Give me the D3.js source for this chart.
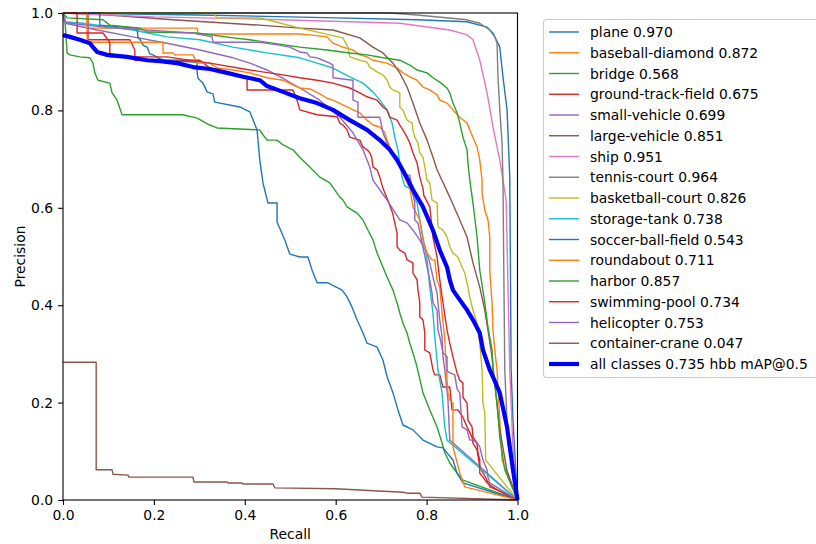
<!DOCTYPE html>
<html>
<head>
<meta charset="utf-8">
<script src="https://cdn.jsdelivr.net/npm/d3@7"></script>
<style>
  body { margin: 0; background: #fff; }
  svg { display: block; }
  text { font-family: "DejaVu Sans", sans-serif; fill: #000; }
</style>
</head>
<body>
<svg id="chart" width="816" height="544"></svg>
<script>
// Class names, per-class AP at IoU 0.5, and line colours
const classNames = ["plane", "baseball-diamond", "bridge", "ground-track-field", "small-vehicle",
  "large-vehicle", "ship", "tennis-court", "basketball-court", "storage-tank", "soccer-ball-field",
  "roundabout", "harbor", "swimming-pool", "helicopter", "container-crane"];
const apValues = [0.970, 0.872, 0.568, 0.675, 0.699, 0.851, 0.951, 0.964, 0.826, 0.738, 0.543,
  0.711, 0.857, 0.734, 0.753, 0.047];
const colors = ["#1f77b4", "#ff7f0e", "#2ca02c", "#d62728", "#9467bd", "#8c564b", "#e377c2",
  "#7f7f7f", "#bcbd22", "#17becf", "#1f77b4", "#ff7f0e", "#2ca02c", "#d62728", "#9467bd", "#8c564b"];

// Precision-recall points, [recall, precision]
const plane = [[0,1],[0.3,0.996],[0.6,0.99],[0.779,0.986],[0.889,0.982],[0.933,0.971],[0.946,0.959],
  [0.961,0.930],[0.968,0.869],[0.977,0.801],[0.983,0.663],[0.986,0.267],[0.990,0.164],[1,0]];
const baseballDiamond = [[0,1],[0.053,1],[0.053,0.969],[0.295,0.969],[0.297,0.957],[0.521,0.957],
  [0.543,0.955],[0.581,0.951],[0.594,0.938],[0.616,0.930],[0.638,0.924],[0.653,0.914],[0.669,0.910],
  [0.682,0.903],[0.713,0.897],[0.735,0.887],[0.748,0.877],[0.763,0.869],[0.779,0.862],[0.792,0.848],
  [0.807,0.842],[0.823,0.832],[0.829,0.821],[0.845,0.815],[0.858,0.801],[0.873,0.786],[0.889,0.774],
  [0.895,0.760],[0.902,0.745],[0.911,0.725],[0.917,0.698],[0.922,0.657],[0.922,0.630],[0.928,0.595],
  [0.935,0.575],[0.939,0.540],[0.939,0.472],[0.944,0.405],[0.946,0.349],[0.950,0.308],[0.955,0.267],
  [0.966,0.082],[1,0]];
const bridge = [[0,1],[0.004,0.99],[0.009,0.918],[0.015,0.914],[0.037,0.910],[0.059,0.908],[0.066,0.897],
  [0.070,0.877],[0.077,0.862],[0.103,0.856],[0.108,0.836],[0.119,0.821],[0.130,0.791],[0.264,0.791],
  [0.295,0.784],[0.323,0.770],[0.339,0.764],[0.433,0.760],[0.440,0.750],[0.449,0.739],[0.471,0.739],
  [0.484,0.729],[0.506,0.719],[0.521,0.704],[0.543,0.684],[0.565,0.663],[0.587,0.651],[0.609,0.622],
  [0.616,0.616],[0.625,0.602],[0.647,0.589],[0.660,0.575],[0.671,0.554],[0.682,0.534],[0.691,0.507],
  [0.704,0.478],[0.713,0.458],[0.726,0.431],[0.735,0.405],[0.741,0.384],[0.748,0.363],[0.757,0.343],
  [0.763,0.322],[0.770,0.302],[0.779,0.273],[0.792,0.220],[0.807,0.185],[0.823,0.150],[0.834,0.117],
  [0.840,0.097],[0.851,0.076],[0.867,0.055],[0.880,0.041],[1,0]];
const groundTrackField = [[0,1],[0.055,1],[0.055,0.945],[0.147,0.945],[0.158,0.924],[0.158,0.903],
  [0.301,0.903],[0.323,0.887],[0.405,0.869],[0.405,0.842],[0.506,0.842],[0.515,0.821],[0.521,0.801],
  [0.559,0.791],[0.603,0.787],[0.609,0.774],[0.616,0.770],[0.625,0.760],[0.631,0.745],[0.653,0.739],
  [0.660,0.725],[0.669,0.719],[0.675,0.713],[0.679,0.704],[0.682,0.684],[0.691,0.678],[0.697,0.663],
  [0.704,0.640],[0.715,0.615],[0.725,0.590],[0.735,0.548],[0.735,0.520],[0.741,0.513],[0.752,0.507],
  [0.757,0.493],[0.770,0.487],[0.770,0.466],[0.779,0.452],[0.781,0.431],[0.785,0.405],[0.785,0.376],
  [0.792,0.370],[0.796,0.343],[0.796,0.308],[0.807,0.302],[0.814,0.267],[0.818,0.257],[0.829,0.257],
  [0.836,0.232],[0.851,0.232],[0.856,0.185],[0.869,0.185],[0.880,0.170],[0.889,0.150],[0.900,0.129],
  [0.902,0.117],[0.911,0.103],[0.917,0.068],[0.933,0.041],[0.939,0.027],[0.955,0.021],[1,0]];
const smallVehicle = [[0,1],[0.005,0.979],[0.075,0.965],[0.154,0.951],[0.229,0.938],[0.301,0.924],
  [0.374,0.908],[0.411,0.897],[0.449,0.883],[0.484,0.866],[0.521,0.846],[0.565,0.821],[0.609,0.786],
  [0.638,0.754],[0.660,0.719],[0.675,0.684],[0.682,0.657],[0.713,0.616],[0.741,0.575],[0.757,0.569],
  [0.770,0.554],[0.785,0.534],[0.801,0.507],[0.807,0.487],[0.814,0.458],[0.823,0.425],[0.825,0.405],
  [0.829,0.370],[0.834,0.335],[0.836,0.294],[0.840,0.267],[0.847,0.205],[0.851,0.123],[1,0]];
const largeVehicle = [[0,1],[0.1,0.996],[0.242,0.986],[0.433,0.975],[0.521,0.969],[0.594,0.965],
  [0.653,0.949],[0.682,0.930],[0.704,0.918],[0.726,0.897],[0.741,0.877],[0.757,0.848],[0.770,0.815],
  [0.785,0.774],[0.801,0.739],[0.814,0.704],[0.823,0.678],[0.851,0.622],[0.873,0.575],[0.889,0.540],
  [0.902,0.487],[0.917,0.437],[0.928,0.390],[0.935,0.349],[0.944,0.294],[0.960,0.15],[0.977,0.06],[1,0]];
const ship = [[0,1],[0.2,0.992],[0.411,0.988],[0.631,0.982],[0.741,0.979],[0.851,0.965],[0.889,0.955],
  [0.902,0.945],[0.917,0.903],[0.933,0.836],[0.946,0.766],[0.961,0.698],[0.968,0.657],[0.975,0.616],
  [0.983,0.267],[0.990,0.103],[1,0]];
const tennisCourt = [[0,1],[0.72,1],[0.779,0.996],[0.889,0.986],[0.917,0.979],[0.939,0.965],[0.950,0.951],
  [0.955,0.938],[0.957,0.869],[0.961,0.801],[0.966,0.733],[0.968,0.657],[0.972,0.267],[0.975,0.205],
  [0.979,0.117],[1,0]];
const basketballCourt = [[0,1],[0.330,1],[0.339,0.99],[0.433,0.99],[0.466,0.982],[0.521,0.969],
  [0.616,0.949],[0.627,0.930],[0.631,0.910],[0.653,0.903],[0.669,0.899],[0.675,0.889],[0.691,0.879],
  [0.704,0.873],[0.713,0.862],[0.719,0.848],[0.726,0.842],[0.741,0.836],[0.741,0.807],[0.748,0.801],
  [0.757,0.780],[0.768,0.774],[0.770,0.760],[0.774,0.745],[0.781,0.733],[0.785,0.713],[0.792,0.704],
  [0.796,0.684],[0.801,0.657],[0.807,0.651],[0.812,0.616],[0.823,0.610],[0.825,0.561],[0.836,0.554],
  [0.845,0.540],[0.851,0.520],[0.858,0.507],[0.869,0.499],[0.878,0.478],[0.884,0.466],[0.891,0.437],
  [0.895,0.417],[0.902,0.390],[0.911,0.363],[0.913,0.349],[0.917,0.322],[0.922,0.267],[0.924,0.199],
  [0.928,0.179],[0.930,0.082],[1,0]];
const storageTank = [[0,1],[0.003,0.982],[0.044,0.979],[0.154,0.965],[0.229,0.951],[0.301,0.945],
  [0.374,0.930],[0.449,0.918],[0.521,0.908],[0.559,0.897],[0.594,0.887],[0.631,0.869],[0.660,0.856],
  [0.682,0.838],[0.697,0.821],[0.713,0.801],[0.724,0.774],[0.730,0.745],[0.737,0.719],[0.741,0.692],
  [0.746,0.663],[0.752,0.645],[0.763,0.640],[0.779,0.610],[0.785,0.575],[0.792,0.540],[0.801,0.493],
  [0.807,0.437],[0.814,0.384],[0.818,0.335],[0.825,0.267],[0.834,0.220],[0.840,0.150],[0.845,0.123],[1,0]];
const soccerBallField = [[0,1],[0.081,1],[0.081,0.975],[0.163,0.969],[0.165,0.949],[0.170,0.945],
  [0.176,0.934],[0.185,0.930],[0.191,0.916],[0.198,0.914],[0.213,0.906],[0.224,0.903],[0.295,0.899],
  [0.295,0.879],[0.297,0.866],[0.308,0.856],[0.317,0.838],[0.330,0.834],[0.334,0.817],[0.389,0.807],
  [0.411,0.797],[0.427,0.760],[0.433,0.698],[0.440,0.651],[0.451,0.610],[0.471,0.610],[0.471,0.571],
  [0.488,0.534],[0.499,0.505],[0.521,0.499],[0.539,0.499],[0.548,0.472],[0.559,0.446],[0.583,0.446],
  [0.614,0.431],[0.625,0.417],[0.636,0.396],[0.647,0.370],[0.660,0.343],[0.669,0.322],[0.691,0.314],
  [0.704,0.287],[0.713,0.253],[0.726,0.220],[0.737,0.185],[0.748,0.154],[0.770,0.144],[0.792,0.123],
  [0.823,0.109],[0.836,0.107],[0.858,0.082],[0.867,0.055],[0.880,0.035],[1,0]];
const roundabout = [[0,1],[0.053,1],[0.053,0.940],[0.220,0.940],[0.220,0.918],[0.242,0.918],[0.246,0.914],
  [0.286,0.914],[0.295,0.897],[0.323,0.897],[0.339,0.887],[0.374,0.883],[0.411,0.877],[0.449,0.867],
  [0.484,0.862],[0.521,0.846],[0.543,0.844],[0.565,0.834],[0.581,0.825],[0.594,0.821],[0.625,0.807],
  [0.653,0.795],[0.669,0.780],[0.682,0.770],[0.697,0.766],[0.708,0.754],[0.713,0.739],[0.719,0.725],
  [0.726,0.713],[0.735,0.698],[0.752,0.661],[0.763,0.640],[0.770,0.602],[0.785,0.575],[0.792,0.534],
  [0.801,0.507],[0.812,0.493],[0.818,0.493],[0.823,0.452],[0.829,0.437],[0.834,0.384],[0.840,0.329],
  [0.845,0.246],[0.847,0.220],[0.851,0.205],[0.858,0.199],[0.858,0.109],[0.869,0.070],[0.873,0.055],
  [0.884,0.027],[1,0]];
const harbor = [[0,1],[0.009,0.99],[0.088,0.986],[0.103,0.975],[0.169,0.969],[0.185,0.961],[0.295,0.959],
  [0.374,0.949],[0.411,0.945],[0.521,0.930],[0.581,0.924],[0.631,0.918],[0.669,0.914],[0.704,0.908],
  [0.741,0.903],[0.763,0.893],[0.779,0.883],[0.801,0.877],[0.814,0.867],[0.829,0.858],[0.845,0.846],
  [0.851,0.836],[0.858,0.815],[0.867,0.795],[0.873,0.774],[0.880,0.745],[0.889,0.719],[0.891,0.692],
  [0.895,0.657],[0.902,0.610],[0.911,0.540],[0.917,0.472],[0.928,0.405],[0.935,0.355],[0.944,0.308],
  [0.946,0.267],[0.955,0.2],[0.961,0.129],[0.972,0.062],[1,0]];
const swimmingPool = [[0,1],[0.031,1],[0.031,0.959],[0.088,0.959],[0.103,0.940],[0.103,0.910],
  [0.229,0.910],[0.323,0.897],[0.411,0.883],[0.484,0.873],[0.521,0.867],[0.559,0.862],[0.594,0.856],
  [0.631,0.846],[0.653,0.836],[0.669,0.828],[0.691,0.821],[0.704,0.807],[0.713,0.801],[0.719,0.786],
  [0.735,0.780],[0.741,0.770],[0.748,0.760],[0.757,0.745],[0.763,0.733],[0.770,0.713],[0.779,0.692],
  [0.785,0.663],[0.792,0.640],[0.794,0.625],[0.807,0.602],[0.814,0.540],[0.823,0.499],[0.829,0.452],
  [0.836,0.405],[0.845,0.349],[0.851,0.322],[0.858,0.294],[0.867,0.261],[0.873,0.246],[0.880,0.240],
  [0.880,0.211],[0.889,0.199],[0.891,0.164],[0.900,0.150],[0.902,0.129],[0.911,0.117],[0.913,0.097],
  [0.917,0.082],[0.917,0.055],[0.924,0.047],[0.933,0.035],[0.955,0.021],[1,0]];
const helicopter = [[0,1],[0.005,0.98],[0.1,0.97],[0.286,0.959],[0.328,0.951],[0.330,0.940],
  [0.433,0.940],[0.475,0.934],[0.499,0.930],[0.521,0.920],[0.537,0.918],[0.543,0.910],[0.559,0.908],
  [0.572,0.903],[0.587,0.897],[0.594,0.893],[0.594,0.867],[0.638,0.862],[0.638,0.821],[0.649,0.817],
  [0.649,0.786],[0.697,0.786],[0.702,0.764],[0.704,0.754],[0.713,0.733],[0.719,0.719],[0.726,0.713],
  [0.735,0.704],[0.737,0.698],[0.741,0.684],[0.752,0.667],[0.763,0.667],[0.768,0.637],[0.774,0.610],
  [0.774,0.575],[0.781,0.569],[0.794,0.510],[0.807,0.452],[0.812,0.425],[0.814,0.405],[0.823,0.390],
  [0.825,0.349],[0.829,0.335],[0.836,0.302],[0.845,0.294],[0.845,0.267],[0.847,0.263],[0.862,0.257],
  [0.867,0.228],[0.873,0.220],[0.878,0.150],[0.889,0.144],[0.895,0.123],[0.902,0.123],[0.911,0.117],
  [0.917,0.109],[0.924,0.082],[0.933,0.062],[0.935,0.047],[0.939,0.035],[1,0]];
const containerCrane = [[0,0.283],[0.073,0.283],[0.073,0.062],[0.108,0.062],[0.110,0.053],[0.143,0.051],
  [0.145,0.047],[0.286,0.047],[0.288,0.037],[0.361,0.037],[0.363,0.035],[0.394,0.035],[0.396,0.033],
  [0.462,0.033],[0.466,0.025],[0.600,0.023],[0.748,0.016],[0.757,0.014],[0.785,0.014],[0.790,0.006],[1,0]];

const allClasses = [[0,0.955],[0.015,0.951],[0.037,0.945],[0.059,0.938],[0.066,0.930],[0.075,0.920],
  [0.097,0.914],[0.141,0.910],[0.185,0.903],[0.214,0.901],[0.251,0.897],[0.286,0.889],[0.323,0.885],
  [0.361,0.877],[0.396,0.869],[0.433,0.862],[0.449,0.850],[0.484,0.838],[0.521,0.825],[0.559,0.815],
  [0.594,0.801],[0.631,0.780],[0.669,0.760],[0.697,0.739],[0.719,0.719],[0.735,0.698],[0.757,0.661],
  [0.770,0.637],[0.792,0.602],[0.814,0.554],[0.829,0.513],[0.845,0.478],[0.851,0.452],[0.858,0.431],
  [0.873,0.411],[0.889,0.390],[0.902,0.370],[0.917,0.343],[0.924,0.308],[0.939,0.267],[0.946,0.253],
  [0.961,0.220],[0.977,0.150],[0.990,0.062],[1,0]];
const allClassesMAP = 0.735;

const classCurves = [plane, baseballDiamond, bridge, groundTrackField, smallVehicle, largeVehicle, ship,
  tennisCourt, basketballCourt, storageTank, soccerBallField, roundabout, harbor, swimmingPool,
  helicopter, containerCrane];

const xTicks = [0, 0.2, 0.4, 0.6, 0.8, 1.0];
const yTicks = [0, 0.2, 0.4, 0.6, 0.8, 1.0];

// Layout
const plot = { left: 63, right: 517.5, top: 13, bottom: 500 };
const fontSize = 13.9;
const svg = d3.select("#chart");

const x = d3.scaleLinear().domain([0, 1]).range([plot.left, plot.right]);
const y = d3.scaleLinear().domain([0, 1]).range([plot.bottom, plot.top]);

const line = d3.line().x(d => x(d[0])).y(d => y(d[1]));

// Axes
const fmt = d3.format(".1f");
const xAxis = svg.append("g")
  .attr("transform", `translate(0,${plot.bottom})`)
  .call(d3.axisBottom(x).tickValues(xTicks).tickFormat(fmt).tickSize(4.9).tickPadding(4.9).tickSizeOuter(0));
const yAxis = svg.append("g")
  .attr("transform", `translate(${plot.left},0)`)
  .call(d3.axisLeft(y).tickValues(yTicks).tickFormat(fmt).tickSize(4.9).tickPadding(4.9).tickSizeOuter(0));
[xAxis, yAxis].forEach(g => {
  g.select(".domain").remove();
  g.selectAll(".tick line").attr("stroke", "#000").attr("stroke-width", 1.1);
  g.selectAll(".tick text").attr("font-size", fontSize).attr("font-family", "DejaVu Sans").attr("fill", "#000");
});

// Curves
const curves = svg.append("g");
classCurves.forEach((pts, i) => {
  curves.append("path")
    .datum(pts)
    .attr("d", line)
    .attr("fill", "none")
    .attr("stroke", colors[i])
    .attr("stroke-width", 1.4)
    .attr("stroke-linejoin", "round");
});
curves.append("path")
  .datum(allClasses)
  .attr("d", line)
  .attr("fill", "none")
  .attr("stroke", "#0000ff")
  .attr("stroke-width", 4.2)
  .attr("stroke-linejoin", "round");

// Frame
svg.append("rect")
  .attr("x", plot.left).attr("y", plot.top)
  .attr("width", plot.right - plot.left).attr("height", plot.bottom - plot.top)
  .attr("fill", "none").attr("stroke", "#000").attr("stroke-width", 1.1);

// Axis titles
svg.append("text")
  .attr("x", (plot.left + plot.right) / 2).attr("y", 539)
  .attr("text-anchor", "middle").attr("font-size", fontSize)
  .text("Recall");
svg.append("text")
  .attr("transform", `translate(25,${(plot.top + plot.bottom) / 2}) rotate(-90)`)
  .attr("text-anchor", "middle").attr("font-size", fontSize)
  .text("Precision");

// Legend
const legendEntries = classNames.map((n, i) => ({ label: `${n} ${apValues[i].toFixed(3)}`, color: colors[i], width: 1.4 }))
  .concat([{ label: `all classes ${allClassesMAP.toFixed(3)} hbb mAP@0.5`, color: "#0000ff", width: 4.2 }]);
const legend = svg.append("g");
const rowH = 20.75, firstY = 32;
legend.append("rect")
  .attr("x", 543.5).attr("y", 19.5)
  .attr("width", 300).attr("height", 358)
  .attr("rx", 3).attr("fill", "#fff").attr("fill-opacity", 0.8)
  .attr("stroke", "#cccccc").attr("stroke-width", 1.1);
legendEntries.forEach((e, i) => {
  const cy = firstY + i * rowH;
  legend.append("line")
    .attr("x1", 549).attr("x2", 579).attr("y1", cy).attr("y2", cy)
    .attr("stroke", e.color).attr("stroke-width", e.width);
  legend.append("text")
    .attr("x", 590).attr("y", cy).attr("dy", "0.36em")
    .attr("font-size", fontSize)
    .text(e.label);
});
</script>
</body>
</html>
